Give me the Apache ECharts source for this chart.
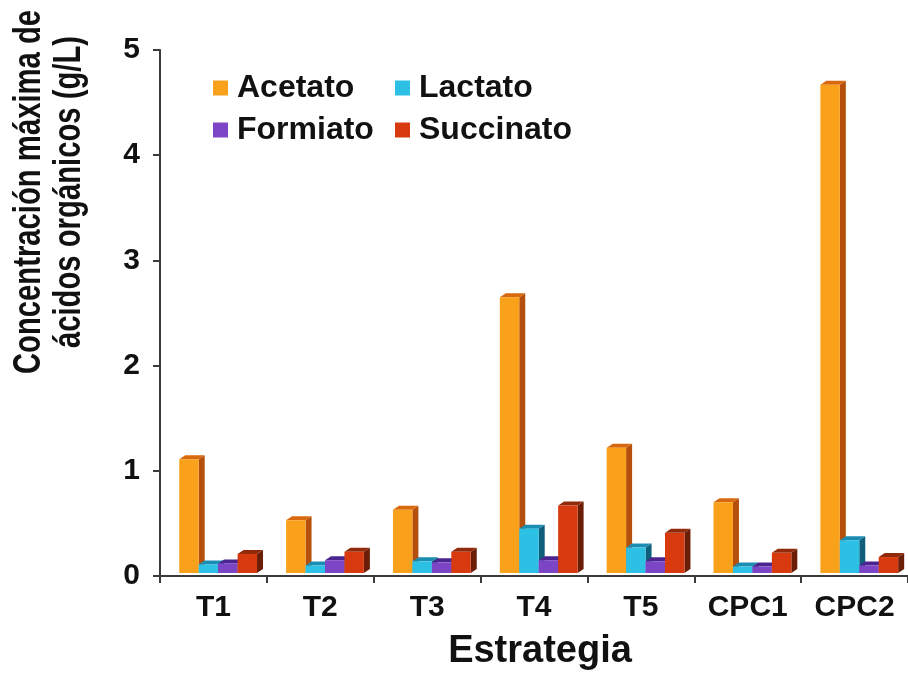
<!DOCTYPE html>
<html>
<head>
<meta charset="utf-8">
<script src="https://cdn.jsdelivr.net/npm/echarts@6/dist/echarts.min.js"></script>
<style>html,body{margin:0;padding:0;background:#fff;}#c{width:908px;height:682px;}</style>
</head>
<body>
<div id="c"></div>
<script>
const categories = ['T1', 'T2', 'T3', 'T4', 'T5', 'CPC1', 'CPC2'];
const acetato   = [1.11, 0.53, 0.63, 2.65, 1.22, 0.70, 4.67];
const lactato   = [0.11, 0.10, 0.14, 0.45, 0.27, 0.09, 0.34];
const formiato  = [0.12, 0.15, 0.13, 0.15, 0.14, 0.09, 0.10];
const succinato = [0.21, 0.23, 0.23, 0.67, 0.41, 0.22, 0.18];
const seriesNames = ['Acetato', 'Lactato', 'Formiato', 'Succinato'];
const yTicks = [0, 1, 2, 3, 4, 5];

const FONT = '"Liberation Sans", Arial, Helvetica, sans-serif';
const palette = [
  {front: '#F9A11B', top: '#D9690E', side: '#B4500B'},
  {front: '#2BC0E4', top: '#1B8DB2', side: '#0D5F7B'},
  {front: '#7B45C6', top: '#4B2490', side: '#331562'},
  {front: '#D83A10', top: '#912A0A', side: '#6A1D07'}
];
const values = [acetato, lactato, formiato, succinato];

function makeRender(s) {
  const c = palette[s];
  return function (params, api) {
    const i = api.value(0);
    const v = api.value(1);
    const top = api.coord([i, v]);
    const base = api.coord([i, 0]);
    const W = api.size([1, 0])[0];
    const w = W * 0.182;
    const x0 = top[0] + W * (-0.32 + s * 0.182);
    const x1 = x0 + w;
    const yb = base[1] - 3;
    const yt = Math.min(top[1], yb - 1);
    const dx = 6, dy = 4;
    return {
      type: 'group',
      children: [
        {type: 'polygon', shape: {points: [[x1, yt], [x1 + dx, yt - dy], [x1 + dx, yb - dy], [x1, yb]]}, style: {fill: c.side}},
        {type: 'polygon', shape: {points: [[x0, yt], [x0 + dx, yt - dy], [x1 + dx, yt - dy], [x1, yt]]}, style: {fill: c.top}},
        {type: 'rect', shape: {x: x0, y: yt, width: w, height: yb - yt}, style: {fill: c.front}}
      ]
    };
  };
}

const series = seriesNames.map(function (name, s) {
  return {
    type: 'custom',
    name: name,
    renderItem: makeRender(s),
    itemStyle: {color: palette[s].front},
    encode: {x: 0, y: 1},
    data: categories.map(function (cat, i) { return [i, values[s][i]]; })
  };
});

const legendBase = {
  orient: 'vertical',
  top: 67,
  itemWidth: 15,
  itemHeight: 15,
  itemGap: 10,
  icon: 'rect',
  textStyle: {fontSize: 32, fontWeight: 'bold', color: '#111', fontFamily: FONT, padding: [0, 0, 0, 4]}
};

const chart = echarts.init(document.getElementById('c'), null, {renderer: 'canvas'});
chart.setOption({
  backgroundColor: '#fff',
  animation: false,
  textStyle: {fontFamily: FONT},
  grid: {left: 160, top: 50, right: -2, bottom: 106, containLabel: false},
  legend: [
    Object.assign({}, legendBase, {left: 208, data: ['Acetato', 'Formiato']}),
    Object.assign({}, legendBase, {left: 390, data: ['Lactato', 'Succinato']})
  ],
  xAxis: {
    type: 'category',
    data: categories,
    name: 'Estrategia',
    nameLocation: 'middle',
    nameGap: 57,
    nameTextStyle: {fontSize: 38, fontWeight: 'bold', color: '#111', fontFamily: FONT, padding: [0, 0, 0, 12]},
    axisLine: {show: true, lineStyle: {color: '#3a3a3a', width: 2}},
    axisTick: {show: true, length: 7, interval: 0, lineStyle: {color: '#3a3a3a', width: 2}},
    axisLabel: {fontSize: 30, fontWeight: 'bold', color: '#111', margin: 17, interval: 0, fontFamily: FONT},
    splitLine: {show: false}
  },
  yAxis: {
    type: 'value',
    min: yTicks[0],
    max: yTicks[yTicks.length - 1],
    interval: 1,
    axisLine: {show: true, lineStyle: {color: '#3a3a3a', width: 2}},
    axisTick: {show: true, length: 7, lineStyle: {color: '#3a3a3a', width: 2}},
    axisLabel: {fontSize: 30, fontWeight: 'bold', color: '#111', margin: 20, fontFamily: FONT},
    splitLine: {show: false}
  },
  graphic: [{
    type: 'text',
    x: 50,
    y: 192,
    rotation: Math.PI / 2,
    scaleX: 0.77,
    style: {
      text: 'Concentración máxima de\nácidos orgánicos (g/L)',
      fontSize: 38,
      fontWeight: 'bold',
      fontFamily: FONT,
      fill: '#111',
      align: 'center',
      verticalAlign: 'middle',
      lineHeight: 40
    }
  }],
  series: series
});
</script>
</body>
</html>
